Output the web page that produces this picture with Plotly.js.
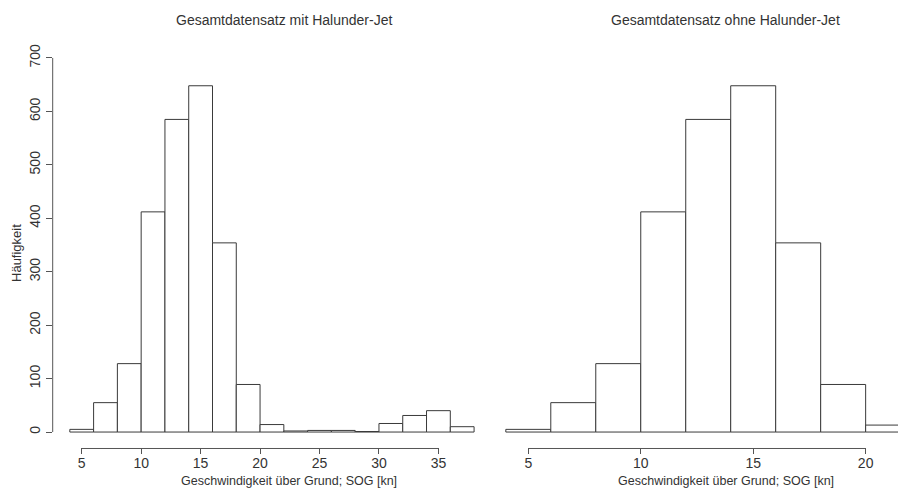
<!DOCTYPE html>
<html>
<head>
<meta charset="utf-8">
<script src="https://cdn.plot.ly/plotly-3.0.1.min.js"></script>
<style>html,body{margin:0;padding:0;background:#fff;}#chart{width:898px;height:491px;}</style>
</head>
<body>
<div id="chart"></div>
<script>
// Data (bin width 2 kn)
const binStartsAll = [4, 6, 8, 10, 12, 14, 16, 18, 20, 22, 24, 26, 28, 30, 32, 34, 36];
const countsAll    = [5, 55, 128, 412, 585, 648, 354, 89, 14, 2, 3, 3, 1, 16, 31, 40, 10];
const binStartsOhne = [4, 6, 8, 10, 12, 14, 16, 18, 20];
const countsOhne    = [5, 55, 128, 412, 585, 648, 354, 89, 13];
const binWidth = 2;
const xTicksLeft = [5, 10, 15, 20, 25, 30, 35];
const xTicksRight = [5, 10, 15, 20];
const yTicks = [0, 100, 200, 300, 400, 500, 600, 700];
const titleLeft = "Gesamtdatensatz mit Halunder-Jet";
const titleRight = "Gesamtdatensatz ohne Halunder-Jet";
const xTitle = "Geschwindigkeit über Grund; SOG [kn]";
const yTitle = "Häufigkeit";

const W = 898, H = 491;
const fam = "Liberation Sans, Arial, sans-serif";
const font = {family: fam, size: 13, color: "#333"};
const barLine = {color: "#3a3a3a", width: 1};

const mids = (starts) => starts.map(s => s + binWidth / 2);

const traces = [
  {type: "bar", x: mids(binStartsAll), y: countsAll, width: binWidth,
   marker: {color: "#ffffff", line: barLine}, xaxis: "x", yaxis: "y", hoverinfo: "x+y"},
  {type: "bar", x: mids(binStartsOhne), y: countsOhne, width: binWidth,
   marker: {color: "#ffffff", line: barLine}, xaxis: "x2", yaxis: "y2", hoverinfo: "x+y"}
];

const mT = 42.5, mB = 43.5;
const plotH = H - mT - mB;
// left panel: pixel 52.7 -> 2.56, 11.89 px/unit
const lPx0 = 52.7, lV0 = 2.56, lPPU = 11.89, lV1 = 39.5;
const lPx1 = lPx0 + (lV1 - lV0) * lPPU;
// right panel: 22.49 px/unit, 5 at 528.3
const rPPU = 22.49, rV0 = 3.5;
const rPx0 = 528.3 - (5 - rV0) * rPPU;
const rV1 = 5 + (W - 528.3) / rPPU;

const axisLineY = -1.5 / plotH;
const common = {showgrid: false, zeroline: false, showline: false, ticks: "outside",
  ticklen: 6, tickwidth: 1, tickcolor: "#555", ticklabelstandoff: -3,
  tickfont: {family: fam, size: 14, color: "#333"}, fixedrange: true};

const layout = {
  width: W, height: H,
  margin: {l: 0, r: 0, t: mT, b: mB, pad: 0},
  paper_bgcolor: "#fff", plot_bgcolor: "#fff",
  showlegend: false, bargap: 0,
  font: font,
  xaxis: Object.assign({}, common, {domain: [lPx0 / W, lPx1 / W], range: [lV0, lV1],
    tickmode: "array", tickvals: xTicksLeft, ticktext: xTicksLeft.map(String)}),
  yaxis: Object.assign({}, common, {domain: [0, 1], range: [-28, 728], anchor: "x",
    tickmode: "array", tickvals: yTicks, ticktext: yTicks.map(String), tickangle: -90, ticklabelstandoff: 0}),
  xaxis2: Object.assign({}, common, {domain: [rPx0 / W, 1], range: [rV0, rV1], anchor: "y2",
    tickmode: "array", tickvals: xTicksRight, ticktext: xTicksRight.map(String)}),
  yaxis2: {domain: [0, 1], range: [-28, 728], anchor: "x2", visible: false, fixedrange: true},
  shapes: [
    {type: "line", xref: "x", yref: "paper", x0: xTicksLeft[0], x1: xTicksLeft[xTicksLeft.length - 1],
     y0: axisLineY, y1: axisLineY, line: {color: "#555", width: 1}},
    {type: "line", xref: "x2", yref: "paper", x0: xTicksRight[0], x1: xTicksRight[xTicksRight.length - 1],
     y0: axisLineY, y1: axisLineY, line: {color: "#555", width: 1}},
    {type: "line", xref: "paper", yref: "y", x0: lPx0 / W, x1: lPx0 / W,
     y0: yTicks[0], y1: yTicks[yTicks.length - 1], line: {color: "#555", width: 1}}
  ],
  annotations: [
    {text: titleLeft, xref: "paper", yref: "paper", x: 284 / W, y: 1 - (19 - mT) / plotH,
     showarrow: false, xanchor: "center", yanchor: "middle", font: {family: fam, size: 14, color: "#333"}},
    {text: titleRight, xref: "paper", yref: "paper", x: 725 / W, y: 1 - (19 - mT) / plotH,
     showarrow: false, xanchor: "center", yanchor: "middle", font: {family: fam, size: 14, color: "#333"}},
    {text: xTitle, xref: "paper", yref: "paper", x: 289 / W, y: -(482 - (H - mB)) / plotH,
     showarrow: false, xanchor: "center", yanchor: "middle", font: {family: fam, size: 12.5, color: "#333"}},
    {text: xTitle, xref: "paper", yref: "paper", x: 726 / W, y: -(482 - (H - mB)) / plotH,
     showarrow: false, xanchor: "center", yanchor: "middle", font: {family: fam, size: 12.5, color: "#333"}},
    {text: yTitle, xref: "paper", yref: "paper", x: 17 / W, y: 1 - (253 - mT) / plotH, textangle: -90,
     showarrow: false, xanchor: "center", yanchor: "middle", font: {family: fam, size: 13, color: "#333"}}
  ]
};

Plotly.newPlot("chart", traces, layout, {displayModeBar: false, staticPlot: true});
</script>
</body>
</html>
